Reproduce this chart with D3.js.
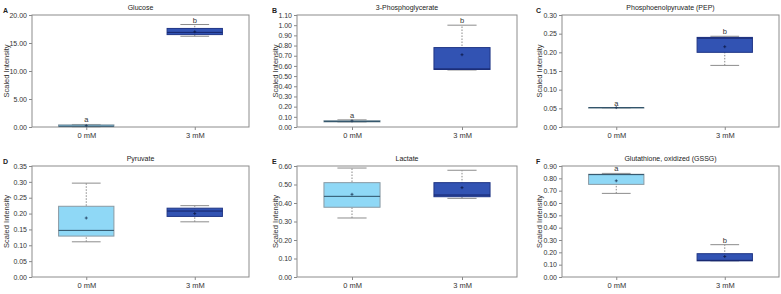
<!DOCTYPE html>
<html>
<head>
<meta charset="utf-8">
<script src="https://cdn.jsdelivr.net/npm/d3@7"></script>
<style>
  body { margin: 0; background: #fff; }
  svg { display: block; font-family: "Liberation Sans", Arial, sans-serif; }
</style>
</head>
<body>
<svg id="grafico" width="781" height="294"></svg>
<script>
// categorias e dados de cada painel
const categorias = ["0 mM", "3 mM"];
const letrasPainel = ["A", "B", "C", "D", "E", "F"];
const titulos = ["Glucose", "3-Phosphoglycerate", "Phosphoenolpyruvate (PEP)",
                 "Pyruvate", "Lactate", "Glutathione, oxidized (GSSG)"];
const yMaximo = [20, 1.1, 0.30, 0.35, 0.60, 0.90];
const yPasso = [5, 0.1, 0.05, 0.05, 0.10, 0.10];

// estatisticas por painel: [0 mM, 3 mM]
const minimos  = [[0.05, 16.2], [0.050, 0.560], [0.051, 0.165], [0.111, 0.174], [0.319, 0.425], [0.678, 0.131]];
const quartil1 = [[0.08, 16.5], [0.050, 0.565], [0.051, 0.200], [0.129, 0.191], [0.377, 0.434], [0.751, 0.131]];
const medianas = [[0.15, 16.9], [0.055, 0.570], [0.052, 0.238], [0.147, 0.208], [0.436, 0.443], [0.830, 0.135]];
const quartil3 = [[0.38, 17.6], [0.062, 0.780], [0.052, 0.240], [0.223, 0.217], [0.510, 0.510], [0.833, 0.189]];
const maximos  = [[0.45, 18.3], [0.070, 1.000], [0.052, 0.243], [0.296, 0.225], [0.589, 0.577], [0.840, 0.262]];
const medias   = [[0.25, 17.0], [0.060, 0.710], [0.052, 0.215], [0.186, 0.200], [0.447, 0.483], [0.780, 0.166]];
const letrasSig = [["a", "b"], ["a", "b"], ["a", "b"], ["", ""], ["", ""], ["a", "b"]];

// layout dos paineis
const colEsq = [32, 297, 562];
const colDir = [249, 517, 779];
const linTopo = [15, 166];
const linBase = [127, 277];
const letraX = [3, 272, 536];

const corCaixa = ["#8fd8f6", "#3253b3"];
const corBorda = ["#8a9aa3", "#1f3585"];
const corMediana = ["#2c4f66", "#16246a"];

const svg = d3.select("#grafico");

for (let p = 0; p < titulos.length; p++) {
    const col = p % 3, lin = Math.floor(p / 3);
    const left = colEsq[col], right = colDir[col];
    const top = linTopo[lin], bottom = linBase[lin];
    const g = svg.append("g");

    const y = d3.scaleLinear().domain([0, yMaximo[p]]).range([bottom, top]);
    const x = d3.scalePoint().domain(categorias).range([left, right]).padding(0.5);
    const largura = (right - left) * 0.255;
    const cap = largura * 0.52;

    // eixo Y
    const ticks = d3.range(0, yMaximo[p] + yPasso[p] / 2, yPasso[p]);
    g.append("g")
        .attr("transform", "translate(" + left + ",0)")
        .call(d3.axisLeft(y).tickValues(ticks).tickFormat(d3.format(".2f")).tickSize(3).tickPadding(2))
        .call(s => s.select(".domain").remove())
        .call(s => s.selectAll("line").attr("stroke", "#888"))
        .call(s => s.selectAll("text").attr("fill", "#333").style("font-size", "7px"));

    // eixo X
    g.append("g")
        .attr("transform", "translate(0," + bottom + ")")
        .call(d3.axisBottom(x).tickSize(3).tickPadding(3))
        .call(s => s.select(".domain").remove())
        .call(s => s.selectAll("line").attr("stroke", "#888"))
        .call(s => s.selectAll("text").attr("fill", "#333").style("font-size", "7.5px"));

    // moldura
    g.append("rect")
        .attr("x", left).attr("y", top)
        .attr("width", right - left).attr("height", bottom - top)
        .attr("fill", "none").attr("stroke", "#8c8c8c");

    // caixas
    categorias.forEach(function (c, i) {
        const cx = x(c);
        // bigode pontilhado
        g.append("line")
            .attr("x1", cx).attr("x2", cx)
            .attr("y1", y(minimos[p][i])).attr("y2", y(maximos[p][i]))
            .attr("stroke", "#888").attr("stroke-dasharray", "1.5,1.5");
        [minimos[p][i], maximos[p][i]].forEach(function (v) {
            g.append("line")
                .attr("x1", cx - cap / 2).attr("x2", cx + cap / 2)
                .attr("y1", y(v)).attr("y2", y(v))
                .attr("stroke", "#8c8c8c");
        });
        const yTopo = y(quartil3[p][i]), yBase = y(quartil1[p][i]);
        g.append("rect")
            .attr("x", cx - largura / 2).attr("y", yTopo)
            .attr("width", largura).attr("height", Math.max(yBase - yTopo, 0.5))
            .attr("fill", corCaixa[i]).attr("stroke", corBorda[i]).attr("stroke-width", 1);
        g.append("line")
            .attr("x1", cx - largura / 2).attr("x2", cx + largura / 2)
            .attr("y1", y(medianas[p][i])).attr("y2", y(medianas[p][i]))
            .attr("stroke", corMediana[i]).attr("stroke-width", 1);
        // media (+)
        const ym = y(medias[p][i]);
        g.append("path")
            .attr("d", "M" + (cx - 1.5) + "," + ym + "h3M" + cx + "," + (ym - 1.5) + "v3")
            .attr("stroke", i === 0 ? "#1e3a5a" : "#0e1a4a").attr("stroke-width", 0.8);
        // letra de significancia
        if (letrasSig[p][i]) {
            g.append("text")
                .attr("x", cx).attr("y", y(maximos[p][i]) - 2)
                .attr("text-anchor", "middle")
                .style("font-size", "7.5px").attr("fill", "#333")
                .text(letrasSig[p][i]);
        }
    });

    // titulo
    g.append("text")
        .attr("x", (left + right) / 2).attr("y", top - 5)
        .attr("text-anchor", "middle")
        .style("font-size", "7px").attr("fill", "#222")
        .text(titulos[p]);

    // letra do painel
    g.append("text")
        .attr("x", letraX[col]).attr("y", top - 2)
        .style("font-size", "7px").style("font-weight", "bold").attr("fill", "#222")
        .text(letrasPainel[p]);

    // titulo do eixo Y
    g.append("text")
        .attr("transform", "translate(" + (letraX[col] + 6) + "," + ((top + bottom) / 2) + ") rotate(-90)")
        .attr("text-anchor", "middle")
        .style("font-size", "7.5px").attr("fill", "#333")
        .text("Scaled Intensity");
}
</script>
</body>
</html>
